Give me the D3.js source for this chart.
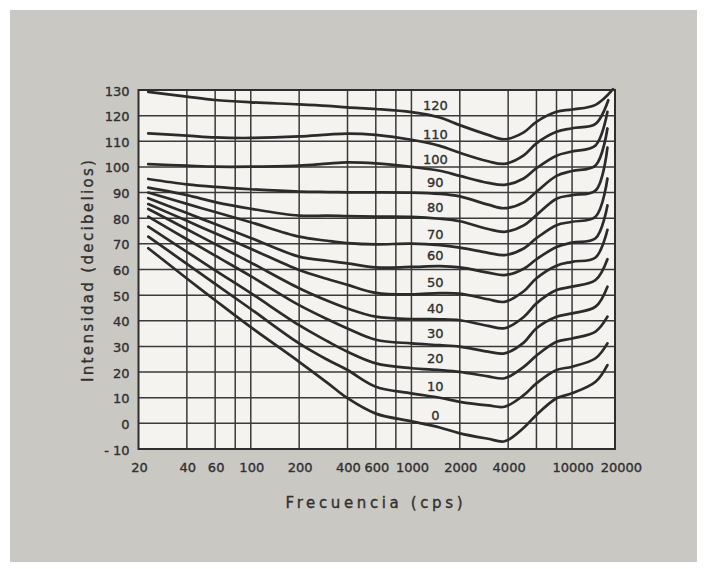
<!DOCTYPE html>
<html>
<head>
<meta charset="utf-8">
<script src="https://cdn.jsdelivr.net/npm/d3@7"></script>
<style>
  html, body { margin: 0; padding: 0; background: #ffffff; }
  svg { display: block; }
</style>
</head>
<body>
<svg id="chart" width="705" height="569"></svg>
<script>
// Equal-loudness contours (phon), intensity in dB against frequency in cps.
const phonLevels = [0, 10, 20, 30, 40, 50, 60, 70, 80, 90, 100, 110, 120];

// Frequencies (cps) at which every contour is sampled.
const sampleHz = [23, 40, 60, 100, 200, 300, 400, 600, 1000, 1500, 2000, 3000, 3800, 5000, 6000, 8000, 10000, 14000];
// Frequency and level where each contour ends (upturn at the high end).
const endHz = [16600, 16600, 16600, 16600, 16600, 16600, 16600, 16600, 16600, 16600, 16600, 16800, 18000];
const endDb = [22.7, 31.2, 41.6, 53.3, 64.0, 75.5, 85.0, 95.5, 107.5, 115.0, 121.5, 126.0, 130.3];

// Intensity (dB) of each contour at sampleHz.
const db0   = [68.3, 56.5, 48.0, 37.5, 24.0, 15.8, 9.8, 3.8, 0.8, -1.6, -3.9, -6.0, -7.0, -1.7, 3.3, 9.8, 11.7, 16.2];
const db10  = [72.8, 62.2, 54.4, 44.6, 31.2, 24.8, 20.8, 14.3, 11.7, 10.0, 8.4, 7.0, 6.5, 11.0, 15.6, 20.8, 22.1, 25.4];
const db20  = [76.7, 66.9, 59.7, 50.8, 38.3, 32.0, 27.9, 23.4, 21.5, 20.8, 20.1, 18.3, 17.6, 22.0, 26.4, 31.8, 33.1, 35.8];
const db30  = [80.6, 71.8, 65.4, 57.4, 46.1, 40.6, 37.0, 32.6, 31.2, 30.5, 29.9, 28.0, 27.3, 31.5, 37.1, 41.6, 42.9, 45.5];
const db40  = [83.6, 75.7, 69.9, 62.7, 52.7, 47.8, 44.8, 41.6, 40.7, 40.6, 40.2, 38.0, 37.1, 41.5, 46.8, 52.0, 53.3, 55.9];
const db50  = [85.5, 79.0, 74.1, 68.1, 59.8, 56.3, 54.0, 50.9, 50.3, 50.8, 50.6, 48.4, 47.4, 51.5, 56.6, 61.5, 63.0, 64.7];
const db60  = [87.8, 82.0, 77.7, 72.3, 65.0, 63.4, 62.4, 60.8, 61.0, 61.3, 60.8, 58.8, 57.8, 60.3, 64.0, 68.8, 70.5, 72.2];
const db70  = [90.0, 85.6, 82.4, 78.4, 72.8, 71.2, 70.3, 69.8, 70.1, 69.5, 68.5, 66.5, 65.6, 68.2, 72.2, 77.3, 78.6, 80.6];
const db80  = [91.9, 89.0, 86.3, 83.7, 81.0, 81.0, 80.8, 80.6, 80.5, 79.8, 78.8, 75.8, 74.7, 77.2, 81.2, 87.6, 89.0, 90.8];
const db90  = [95.3, 93.2, 92.2, 91.3, 90.4, 90.2, 90.1, 90.1, 90.0, 89.5, 88.5, 85.3, 83.9, 86.2, 90.3, 96.5, 98.4, 100.6];
const db100 = [101.1, 100.5, 100.1, 100.1, 100.5, 101.3, 101.8, 101.4, 100.0, 98.5, 96.5, 93.8, 93.0, 95.5, 99.5, 104.4, 106.0, 108.4];
const db110 = [113.1, 112.2, 111.5, 111.3, 111.9, 112.6, 113.0, 112.5, 110.6, 108.2, 105.5, 102.2, 101.2, 104.5, 109.2, 113.7, 115.1, 116.8];
const db120 = [129.3, 127.4, 126.1, 125.2, 124.4, 123.8, 123.2, 122.6, 121.4, 119.3, 116.3, 112.5, 110.8, 113.5, 117.6, 121.5, 122.4, 124.2];
const curveDb = [db0, db10, db20, db30, db40, db50, db60, db70, db80, db90, db100, db110, db120];

// Axis ticks and grid.
const yTicks = [-10, 0, 10, 20, 30, 40, 50, 60, 70, 80, 90, 100, 110, 120, 130];
const gridHz = [40, 60, 80, 100, 200, 400, 600, 800, 1000, 2000, 4000, 6000, 8000, 10000];
const xTickLabels = [20, 40, 60, 100, 200, 400, 600, 1000, 2000, 4000, 10000, 20000];
const labelHz = 1450;

const svg = d3.select("#chart");
const plot = { left: 138.5, right: 615, top: 90, bottom: 449 };

const x = d3.scaleLog().domain([20, 18500]).range([plot.left, plot.right]);
const y = d3.scaleLinear().domain([-10, 130]).range([plot.bottom, plot.top]);

const ink = "#303030";
const font = "'DejaVu Sans', sans-serif";

// Paper background
svg.append("rect").attr("x", 10).attr("y", 10).attr("width", 687).attr("height", 552)
  .attr("fill", "#cac8c3");

// Plot field
svg.append("rect")
  .attr("x", plot.left).attr("y", plot.top)
  .attr("width", plot.right - plot.left).attr("height", plot.bottom - plot.top)
  .attr("fill", "#f4f3ef");

// Horizontal grid
svg.append("g").selectAll("line").data(yTicks.filter(v => v > -10 && v < 130)).join("line")
  .attr("x1", plot.left).attr("x2", plot.right)
  .attr("y1", d => y(d)).attr("y2", d => y(d))
  .attr("stroke", "#3a3a3a").attr("stroke-width", 1.5);

// Vertical grid
svg.append("g").selectAll("line").data(gridHz).join("line")
  .attr("x1", d => x(d)).attr("x2", d => x(d))
  .attr("y1", plot.top).attr("y2", plot.bottom)
  .attr("stroke", "#3a3a3a").attr("stroke-width", 1.5);

// Contours
const line = d3.line()
  .x(d => x(d[0]))
  .y(d => y(d[1]))
  .curve(d3.curveCatmullRom.alpha(0.5));

const contours = phonLevels.map((p, i) => {
  const pts = sampleHz.map((f, j) => [f, curveDb[i][j]]);
  pts.push([endHz[i], endDb[i]]);
  return { phon: p, pts };
});

svg.append("g").selectAll("path").data(contours).join("path")
  .attr("d", d => line(d.pts))
  .attr("fill", "none")
  .attr("stroke", "#2b2b2b")
  .attr("stroke-width", 2.7)
  .attr("stroke-linecap", "round")
  .attr("stroke-linejoin", "round");

// Frame
svg.append("rect")
  .attr("x", plot.left).attr("y", plot.top)
  .attr("width", plot.right - plot.left).attr("height", plot.bottom - plot.top)
  .attr("fill", "none").attr("stroke", "#2e2e2e").attr("stroke-width", 2);

// Contour labels, set just above each contour near labelHz
function dbAt(pts, f) {
  const lf = Math.log10(f);
  for (let k = 0; k < pts.length - 1; k++) {
    const a = Math.log10(pts[k][0]), b = Math.log10(pts[k + 1][0]);
    if (lf >= a && lf <= b) {
      const t = (lf - a) / (b - a);
      return pts[k][1] + t * (pts[k + 1][1] - pts[k][1]);
    }
  }
  return pts[pts.length - 1][1];
}

const textStyle = sel => sel
  .attr("font-family", font)
  .attr("fill", ink)
  .attr("stroke", ink)
  .attr("stroke-width", 0.35);

svg.append("g").selectAll("text").data(contours).join("text")
  .attr("x", x(labelHz) - 2)
  .attr("y", d => y(dbAt(d.pts, labelHz)) - 6.5)
  .attr("text-anchor", "middle")
  .attr("font-size", 13)
  .call(textStyle)
  .text(d => d.phon);

// Y tick labels
svg.append("g").selectAll("text").data(yTicks).join("text")
  .attr("x", plot.left - 9)
  .attr("y", d => y(d) + 5.5)
  .attr("text-anchor", "end")
  .attr("font-size", 13)
  .call(textStyle)
  .text(d => d < 0 ? "- " + Math.abs(d) : d);

// X tick labels
svg.append("g").selectAll("text").data(xTickLabels).join("text")
  .attr("x", d => x(d) + 1)
  .attr("y", 471.5)
  .attr("text-anchor", "middle")
  .attr("font-size", 13)
  .call(textStyle)
  .text(d => d);

// Axis titles
svg.append("text")
  .attr("x", 374).attr("y", 508)
  .attr("text-anchor", "middle")
  .attr("font-size", 15)
  .attr("textLength", 177).attr("lengthAdjust", "spacing")
  .call(textStyle)
  .text("Frecuencia (cps)");

svg.append("text")
  .attr("transform", "translate(93,271) rotate(-90)")
  .attr("text-anchor", "middle")
  .attr("font-size", 15)
  .attr("textLength", 222).attr("lengthAdjust", "spacing")
  .call(textStyle)
  .text("Intensidad (decibelios)");
</script>
</body>
</html>
